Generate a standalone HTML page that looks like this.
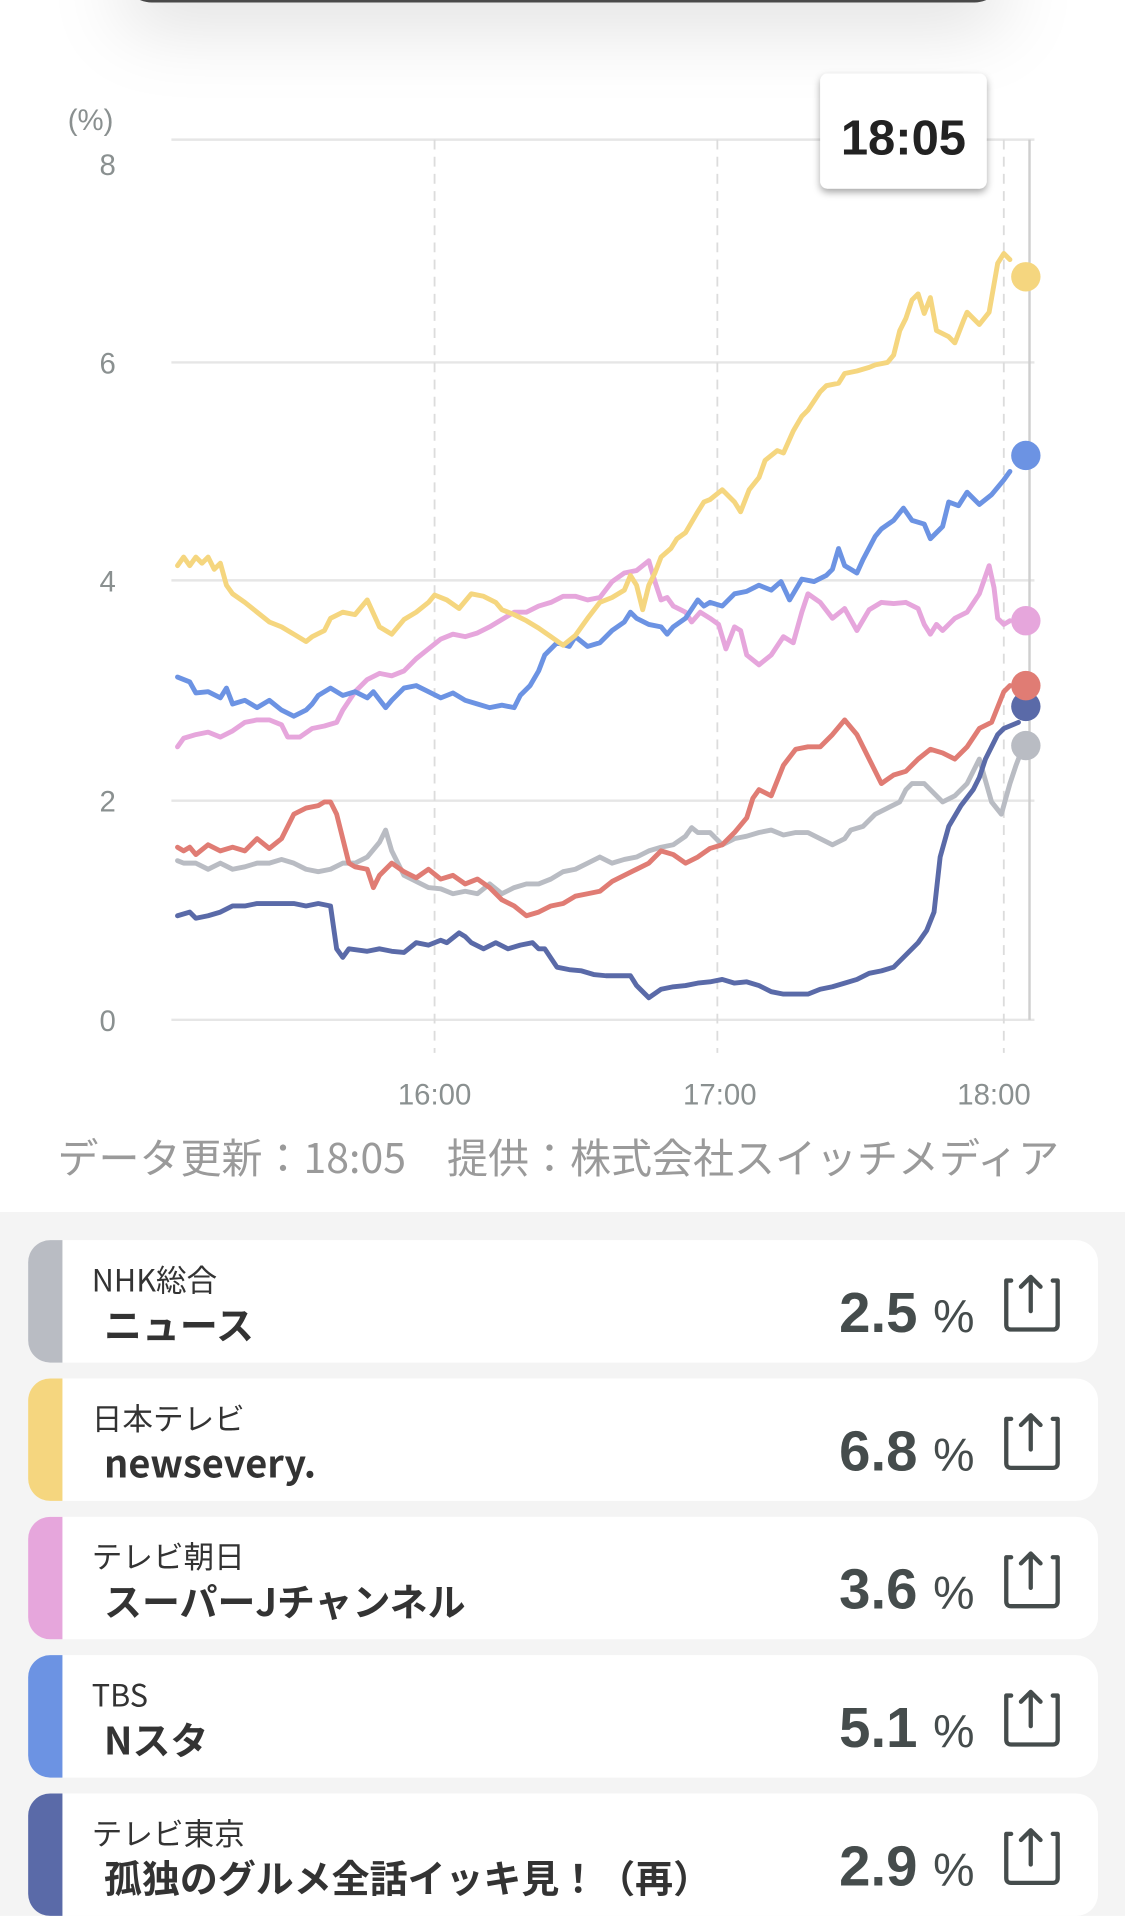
<!DOCTYPE html>
<html><head><meta charset="utf-8"><style>
html,body{margin:0;padding:0;background:#fff;}
svg{display:block;}
text{font-family:"Liberation Sans","Noto Sans CJK JP",sans-serif;}
.jp{font-family:"Noto Sans CJK JP","Liberation Sans",sans-serif;}
</style></head><body>
<svg width="1125" height="1916" viewBox="0 0 919 1565" xmlns="http://www.w3.org/2000/svg">
<defs>
<filter id="sh" x="-30%" y="-100%" width="160%" height="400%"><feDropShadow dx="0" dy="20" stdDeviation="30" flood-color="#000" flood-opacity="0.12"/></filter>
<filter id="sh2" x="-20%" y="-20%" width="140%" height="150%"><feDropShadow dx="0" dy="3" stdDeviation="3" flood-color="#000" flood-opacity="0.35"/></filter>
</defs>
<rect x="0" y="0" width="919" height="990" fill="#fff"/>
<rect x="100" y="-60" width="720" height="62" rx="24" fill="#4a4a4a" filter="url(#sh)"/>
<g stroke="#e6e6e6" stroke-width="2">
<line x1="140" y1="114" x2="845" y2="114"/><line x1="140" y1="296" x2="845" y2="296"/>
<line x1="140" y1="474" x2="845" y2="474"/><line x1="140" y1="654" x2="845" y2="654"/>
<line x1="140" y1="833" x2="845" y2="833"/>
</g>
<g stroke="#dcdcdc" stroke-width="1.5" stroke-dasharray="8,6">
<line x1="355" y1="114" x2="355" y2="860"/><line x1="586" y1="114" x2="586" y2="860"/><line x1="820" y1="114" x2="820" y2="860"/>
</g>
<line x1="841" y1="114" x2="841" y2="833" stroke="#cfcfcf" stroke-width="2"/>
<g fill="#8a9090" font-size="24" text-anchor="middle">
<text x="74" y="106">(%)</text>
<text x="88" y="143">8</text><text x="88" y="305">6</text><text x="88" y="483">4</text><text x="88" y="663">2</text><text x="88" y="842">0</text>
<text x="355" y="902">16:00</text><text x="588" y="902">17:00</text><text x="812" y="902">18:00</text>
</g>
<text x="47" y="958" font-size="33.5" fill="#9a9a9a" class="jp">データ更新：18:05　提供：株式会社スイッチメディア</text>
<g fill="none" stroke-width="4" stroke-linejoin="round" stroke-linecap="round">
<polyline stroke="#b9bcc3" points="145,703 150,705 160,705 170,710 180,705 190,710 200,708 210,705 220,705 230,702 240,705 250,710 260,712 270,710 280,705 290,705 300,700 310,688 315,678 320,695 325,705 330,715 340,720 350,725 360,726 370,730 380,728 390,730 400,722 410,730 420,725 430,722 440,722 450,718 460,712 470,710 480,705 490,700 500,705 510,702 520,700 530,695 540,692 550,690 560,683 565,676 570,680 580,680 590,690 600,685 610,683 620,680 630,678 640,682 650,680 660,680 670,685 680,690 690,685 695,678 705,675 715,665 725,660 735,655 740,645 745,640 755,640 765,650 770,655 780,650 790,640 800,620 810,655 818,665 825,640 830,625 835,612"/>
<polyline stroke="#5a6aa8" points="145,748 155,745 160,750 170,748 180,745 190,740 200,740 210,738 220,738 230,738 240,738 250,740 260,738 270,740 275,775 280,782 285,775 300,777 310,775 320,777 330,778 340,770 350,772 360,768 365,770 375,762 380,765 385,770 395,775 405,770 415,775 425,772 435,770 440,775 445,775 455,790 465,792 475,793 485,796 495,797 505,797 515,797 520,805 530,815 540,808 550,806 560,805 570,803 580,802 590,800 600,803 610,802 620,805 630,810 640,812 650,812 660,812 670,808 680,806 690,803 700,800 710,795 720,793 730,790 740,780 750,770 757,760 763,745 768,700 775,675 785,658 795,645 800,635 805,620 815,600 820,595 832,590"/>
<polyline stroke="#e07c74" points="145,692 150,695 155,692 160,698 170,690 180,695 190,692 200,695 210,685 220,693 230,685 240,665 250,660 260,658 265,655 270,655 275,665 280,685 285,705 290,708 300,710 305,725 310,715 320,705 330,712 340,717 350,710 360,718 370,715 380,722 390,718 400,725 410,735 420,740 430,748 440,745 450,740 460,738 470,732 480,730 490,728 500,720 510,715 520,710 530,705 540,695 550,698 560,705 570,700 580,693 590,690 600,680 610,668 615,652 620,645 630,650 640,625 650,612 660,610 670,610 680,600 690,588 700,600 705,610 715,630 720,640 730,633 740,630 750,620 760,612 770,615 780,620 790,610 800,595 810,590 820,565 825,560"/>
<polyline stroke="#e6a6dc" points="145,610 150,603 160,600 170,598 180,602 190,597 200,590 210,588 220,588 230,592 235,602 245,602 255,595 265,593 275,590 280,580 290,565 300,555 310,550 320,552 330,548 340,538 350,530 360,522 370,518 380,520 390,517 400,512 410,506 420,500 430,500 440,495 450,492 460,487 470,487 480,490 490,488 500,475 510,468 520,466 530,458 535,475 540,490 545,488 550,495 560,500 565,508 572,500 580,505 587,510 593,530 600,512 605,515 610,535 620,543 630,535 640,520 648,525 655,500 660,485 670,492 680,505 690,497 700,515 710,498 720,492 730,493 740,492 750,497 755,510 760,518 765,510 770,515 780,505 790,500 800,485 808,462 812,480 815,505 820,510 825,507"/>
<polyline stroke="#6c93e3" points="145,553 155,557 160,566 170,565 180,570 185,562 190,575 200,572 210,578 220,572 230,580 240,585 250,580 255,575 260,568 270,562 280,568 290,565 300,570 305,565 315,578 320,572 330,562 340,560 350,565 360,570 370,566 380,572 390,575 400,578 410,576 420,578 425,568 433,560 440,548 445,535 455,525 465,528 470,520 480,528 490,525 500,515 510,508 515,500 520,505 530,510 540,512 545,518 550,512 560,505 570,490 575,495 580,492 590,495 600,485 610,483 620,478 630,482 638,475 645,490 655,473 665,475 675,470 680,465 685,448 690,462 700,468 705,457 715,438 720,432 730,425 738,415 745,425 755,428 760,440 765,435 770,430 775,410 783,413 790,402 800,412 810,404 820,392 825,385"/>
<polyline stroke="#f5d67f" points="145,462 150,455 155,462 160,455 165,460 170,455 175,465 180,460 185,478 190,485 200,492 210,500 220,508 230,512 240,518 250,524 255,520 265,515 270,505 280,500 290,502 300,490 310,512 320,518 330,506 340,500 350,492 355,486 365,490 375,497 385,485 395,487 405,492 410,498 420,502 430,507 440,513 450,520 460,527 470,519 480,505 490,492 500,488 510,482 515,470 520,478 525,498 530,478 535,468 540,455 548,448 553,440 560,435 570,418 575,410 580,408 590,400 600,410 605,418 612,400 620,390 625,376 635,368 640,370 648,352 655,340 660,335 670,320 675,315 685,313 690,305 700,303 710,300 715,298 725,296 730,290 735,270 740,260 745,245 750,240 755,256 760,243 765,270 775,275 780,280 787,262 790,255 800,265 808,255 815,215 820,207 825,212"/>
</g>
<circle cx="838" cy="609" r="12" fill="#b9bcc3"/>
<circle cx="838" cy="577" r="12" fill="#5a6aa8"/>
<circle cx="838" cy="560" r="12" fill="#e07c74"/>
<circle cx="838" cy="507" r="12" fill="#e6a6dc"/>
<circle cx="838" cy="372" r="12" fill="#6c93e3"/>
<circle cx="838" cy="226" r="12" fill="#f5d67f"/>
<rect x="670" y="60" width="136" height="94" rx="6" fill="#fff" filter="url(#sh2)"/>
<text x="738" y="126" font-size="40" font-weight="bold" fill="#222" text-anchor="middle">18:05</text>
<rect x="0" y="990" width="919" height="575" fill="#f4f4f4"/>
<g>
<g transform="translate(0,1013)">
<rect x="23" y="0" width="874" height="100" rx="18" fill="#fff"/>
<path d="M41,0 H51 V100 H41 A18,18 0 0 1 23,82 V18 A18,18 0 0 1 41,0Z" fill="#b9bcc3"/>
<text x="75" y="42" font-size="25" fill="#333" class="jp">NHK総合</text>
<text x="85" y="81" font-size="31" font-weight="bold" fill="#333" class="jp">ニュース</text>
</g>
<g transform="translate(0,1126)">
<rect x="23" y="0" width="874" height="100" rx="18" fill="#fff"/>
<path d="M41,0 H51 V100 H41 A18,18 0 0 1 23,82 V18 A18,18 0 0 1 41,0Z" fill="#f5d67f"/>
<text x="75" y="42" font-size="25" fill="#333" class="jp">日本テレビ</text>
<text x="85" y="81" font-size="31" font-weight="bold" fill="#333" class="jp">newsevery.</text>
</g>
<g transform="translate(0,1239)">
<rect x="23" y="0" width="874" height="100" rx="18" fill="#fff"/>
<path d="M41,0 H51 V100 H41 A18,18 0 0 1 23,82 V18 A18,18 0 0 1 41,0Z" fill="#e6a6dc"/>
<text x="75" y="42" font-size="25" fill="#333" class="jp">テレビ朝日</text>
<text x="85" y="81" font-size="31" font-weight="bold" fill="#333" class="jp">スーパーJチャンネル</text>
</g>
<g transform="translate(0,1352)">
<rect x="23" y="0" width="874" height="100" rx="18" fill="#fff"/>
<path d="M41,0 H51 V100 H41 A18,18 0 0 1 23,82 V18 A18,18 0 0 1 41,0Z" fill="#6c93e3"/>
<text x="75" y="42" font-size="25" fill="#333" class="jp">TBS</text>
<text x="85" y="81" font-size="31" font-weight="bold" fill="#333" class="jp">Nスタ</text>
</g>
<g transform="translate(0,1465)">
<rect x="23" y="0" width="874" height="100" rx="18" fill="#fff"/>
<path d="M41,0 H51 V100 H41 A18,18 0 0 1 23,82 V18 A18,18 0 0 1 41,0Z" fill="#5a6aa8"/>
<text x="75" y="42" font-size="25" fill="#333" class="jp">テレビ東京</text>
<text x="85" y="81" font-size="31" font-weight="bold" fill="#333" class="jp">孤独のグルメ全話イッキ見！（再）</text>
</g>
</g>
<g fill="#454c4c" font-size="46" font-weight="bold" text-anchor="end" class="jp">
<text x="796" y="1088">2.5 <tspan font-size="38" font-weight="normal">%</tspan></text>
<text x="796" y="1201">6.8 <tspan font-size="38" font-weight="normal">%</tspan></text>
<text x="796" y="1314">3.6 <tspan font-size="38" font-weight="normal">%</tspan></text>
<text x="796" y="1427">5.1 <tspan font-size="38" font-weight="normal">%</tspan></text>
<text x="796" y="1540">2.9 <tspan font-size="38" font-weight="normal">%</tspan></text>
</g>
<g fill="none" stroke="#454c4c" stroke-width="3.5" stroke-linecap="round" stroke-linejoin="round">
<g id="ic" transform="translate(0,1013)">
<path d="M826,33 h-4 v36 q0,4 4,4 h34 q4,0 4,-4 v-36 h-4"/>
<path d="M842,58 v-28 M834,38 l8,-8 l8,8"/>
</g>
<use href="#ic" transform="translate(0,113)"/>
<use href="#ic" transform="translate(0,226)"/>
<use href="#ic" transform="translate(0,339)"/>
<use href="#ic" transform="translate(0,452)"/>
</g>
</svg>
</body></html>
